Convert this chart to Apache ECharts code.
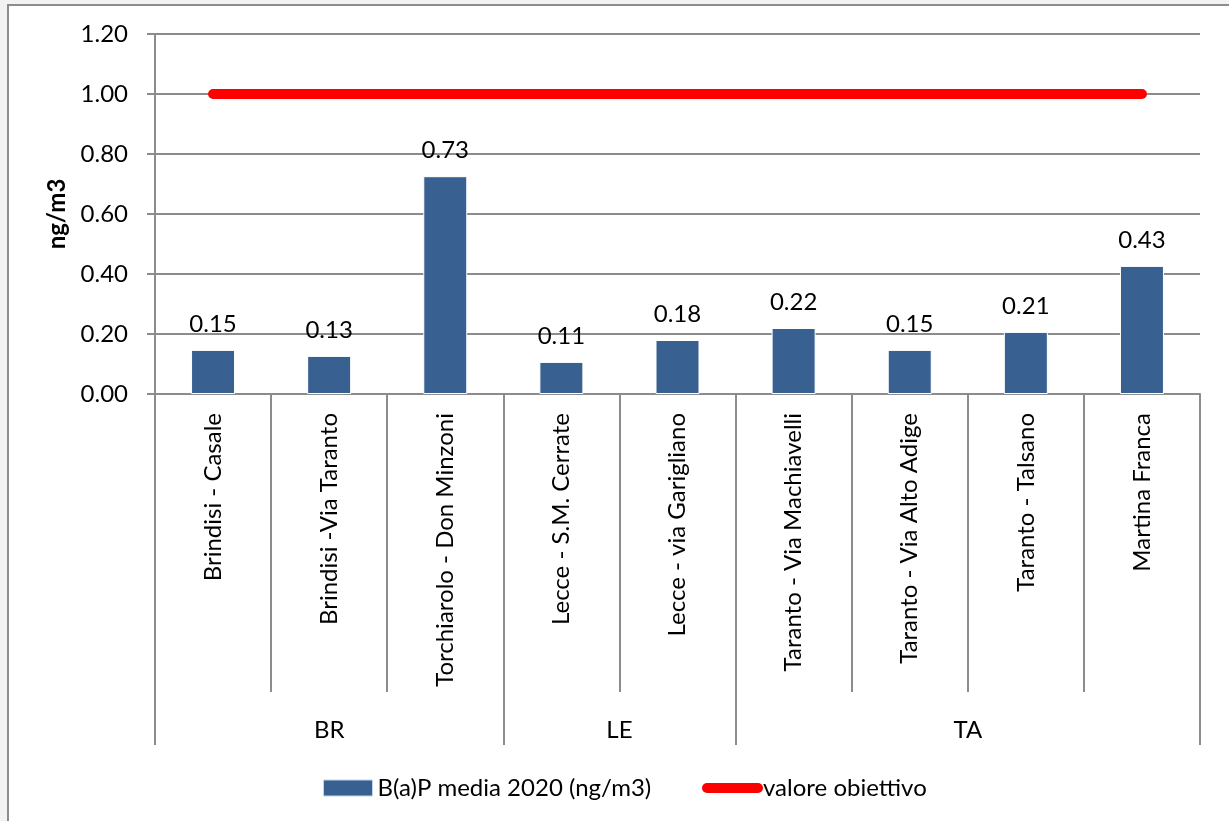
<!DOCTYPE html>
<html>
<head>
<meta charset="utf-8">
<script src="https://cdn.jsdelivr.net/npm/echarts@6/dist/echarts.min.js"></script>
<style>
  html, body { margin: 0; padding: 0; background: #f2f2f2; }
  #main { width: 1229px; height: 821px; }
</style>
</head>
<body>
<div id="main"></div>
<script>
// dati
const stazioni = ['Brindisi - Casale', 'Brindisi -Via Taranto', 'Torchiarolo - Don Minzoni',
    'Lecce - S.M. Cerrate', 'Lecce - via Garigliano', 'Taranto - Via Machiavelli',
    'Taranto - Via Alto Adige', 'Taranto - Talsano', 'Martina Franca'];
const mediaBaP = [0.147, 0.127, 0.726, 0.107, 0.18, 0.22, 0.147, 0.207, 0.427];
const valoreObiettivo = [1, 1, 1, 1, 1, 1, 1, 1, 1];
const province = ['BR', 'LE', 'TA'];
const confiniProvince = [0, 3, 5, 9];   // limiti dei gruppi (indice categoria)
const centriProvince = [1.5, 4, 7];
const yTicks = [0, 0.2, 0.4, 0.6, 0.8, 1.0, 1.2];

const grigio = '#8c8c8c';
const font = 'Lato, "Open Sans", sans-serif';

const chart = echarts.init(document.getElementById('main'), null, { renderer: 'canvas' });

const option = {
    backgroundColor: '#f2f2f2',
    animation: false,
    textStyle: { fontFamily: font },
    graphic: [{
        type: 'rect',
        z: -10,
        shape: { x: 8, y: 5, width: 1240, height: 840 },
        style: { fill: '#ffffff', stroke: grigio, lineWidth: 2 }
    }],
    grid: { left: 155, right: 29, top: 34, bottom: 427 },
    legend: [{
        data: ['B(a)P media 2020 (ng/m3)'],
        left: 318, top: 771,
        itemWidth: 49, itemHeight: 16,
        icon: 'rect',
        itemStyle: { borderColor: '#c5d3e6', borderWidth: 1 },
        textStyle: { fontSize: 24, color: '#000', fontFamily: font }
    }, {
        data: ['valore obiettivo'],
        left: 697, top: 771,
        itemWidth: 61, itemHeight: 10,
        icon: 'path://M5,0 L56,0 A5,5 0 0 1 56,10 L5,10 A5,5 0 0 1 5,0 Z',
        textStyle: { fontSize: 24, color: '#000', fontFamily: font, padding: [0, 0, 0, -5] }
    }],
    xAxis: [{
        type: 'category',
        data: stazioni,
        axisLine: { lineStyle: { color: grigio, width: 2 } },
        axisTick: { show: true, interval: 0, length: 298, lineStyle: { color: grigio, width: 2 } },
        axisLabel: {
            interval: 0, rotate: 90, margin: 19,
            fontSize: 24, color: '#000', fontFamily: font
        }
    }, {
        type: 'value',
        min: 0, max: 9,
        position: 'bottom',
        offset: 298,
        axisLine: { show: false },
        splitLine: { show: false },
        axisTick: {
            show: true, length: 53,
            customValues: confiniProvince,
            lineStyle: { color: grigio, width: 2 }
        },
        axisLabel: {
            customValues: centriProvince,
            margin: 26,
            fontSize: 24, color: '#000', fontFamily: font,
            formatter: (v) => province[centriProvince.indexOf(v)]
        }
    }],
    yAxis: {
        type: 'value',
        min: yTicks[0], max: yTicks[yTicks.length - 1], interval: 0.2,
        name: 'ng/m3',
        nameLocation: 'middle',
        nameGap: 84,
        nameTextStyle: { fontSize: 24, fontWeight: 'bold', color: '#000', fontFamily: font },
        axisLine: { show: true, lineStyle: { color: grigio, width: 2 } },
        axisTick: { show: true, length: 8, lineStyle: { color: grigio, width: 2 } },
        axisLabel: {
            margin: 27, fontSize: 24, color: '#000', fontFamily: font,
            formatter: (v) => v.toFixed(2)
        },
        splitLine: { lineStyle: { color: grigio, width: 2 } }
    },
    series: [{
        name: 'B(a)P media 2020 (ng/m3)',
        type: 'bar',
        data: mediaBaP,
        barWidth: 44,
        itemStyle: { color: '#386192', borderColor: '#ffffff', borderWidth: 1 },
        label: {
            show: true, position: 'top', distance: 14,
            fontSize: 24, color: '#000', fontFamily: font,
            formatter: (p) => p.value.toFixed(2)
        },
        z: 2
    }, {
        name: 'valore obiettivo',
        type: 'line',
        data: valoreObiettivo,
        symbol: 'none',
        color: '#ff0000',
        lineStyle: { color: '#ff0000', width: 10, cap: 'round' },
        z: 3
    }]
};

chart.setOption(option);
window.addEventListener('resize', chart.resize);
</script>
</body>
</html>
